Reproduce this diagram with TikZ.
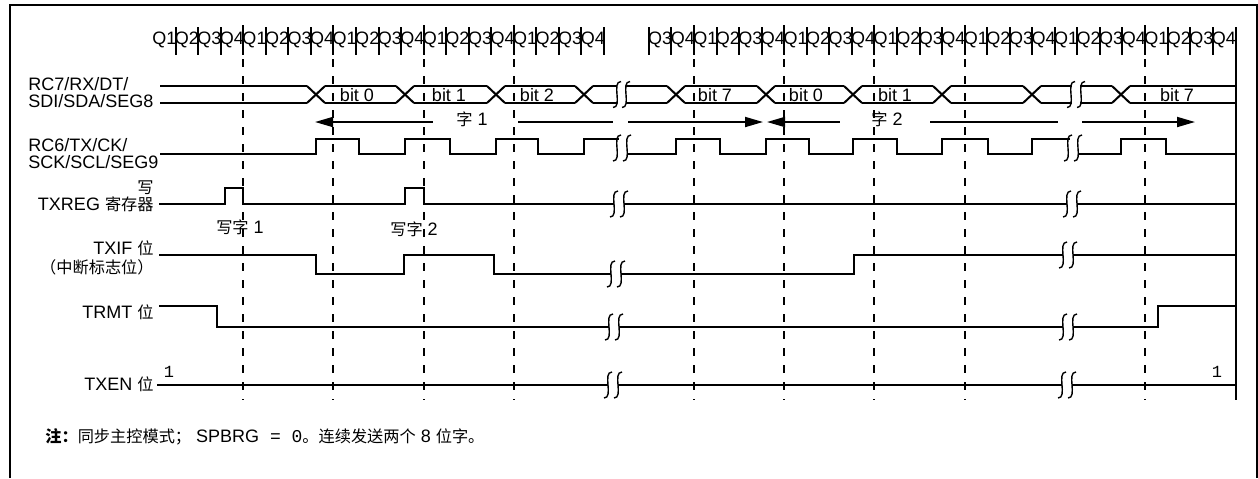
\documentclass[tikz,border=0pt]{standalone}
\usepackage{fontspec}
\setmainfont{Liberation Sans}
\setmonofont{Liberation Mono}
\newfontfamily\cjk[Scale=0.9]{Noto Sans CJK SC}
\usetikzlibrary{arrows.meta,positioning}

\tikzset{
  brk/.pic={\draw[line width=0.7pt] (4,-13) .. controls (-6,-13) and (6,13) .. (-4,13);}
}

\begin{document}
\begin{tikzpicture}[
    x=0.5pt, y=-0.5pt,
    font=\fontsize{9}{8.5}\selectfont,
    sig/.style={line width=1pt},
    outer/.style={line width=1.3pt},
    guide/.style={line width=1pt, dash pattern=on 4pt off 4.5pt},
    qtick/.style={line width=1pt},
    qlbl/.style={inner sep=0pt},
    siglbl/.style={inner sep=0pt, align=right, anchor=east},
    wordln/.style={line width=0.9pt},
    wtip/.tip={Triangle[length=9pt,width=5pt]}
]
\useasboundingbox (0,0) rectangle (1258,478);
% frame
\draw[outer] (10,478) -- (10,5) -- (1257,5) -- (1257,478);

% Q1..Q4 clock phases
\foreach \i in {0,...,19}{
  \pgfmathtruncatemacro\q{mod(\i,4)+1}
  \node[qlbl] (qa\i) at (164.3+22.55*\i,40) {Q\q};
}
\foreach \i in {0,...,25}{
  \pgfmathtruncatemacro\q{mod(\i+2,4)+1}
  \node[qlbl] (qb\i) at (660.2+22.55*\i,40) {Q\q};
}
\foreach \i in {1,...,20} \draw[qtick] (153+22.55*\i,27) -- (153+22.55*\i,55);
\foreach \i in {0,...,25} \draw[qtick] (648.9+22.55*\i,27) -- (648.9+22.55*\i,55);

% cycle guides
\foreach \x in {243.2,333.4,423.6,513.8,694,784.2,874.4,964.6,1144.8}
  \draw[guide] (\x,25) -- (\x,400);
\draw[sig] (1236,27) -- (1236,400);

% signal names
\node[siglbl, anchor=west, align=left] (rc7) at (28,93) {RC7/RX/DT/\\SDI/SDA/SEG8};
\node[siglbl, anchor=west, align=left] (rc6) at (28,154) {RC6/TX/CK/\\SCK/SCL/SEG9};
\node[siglbl] (txreg) at (154,196) {{\cjk 写}\\TXREG {\cjk 寄存器}};
\node[siglbl, font=\fontsize{9}{9.5}\selectfont] (txif) at (154,258) {TXIF {\cjk 位}\\{\cjk （中断标志位）}};
\node[siglbl] (trmt) at (154,312) {TRMT {\cjk 位}};
\node[siglbl] (txen) at (154,384) {TXEN {\cjk 位}};

% RC7 data bus
\foreach \a/\b in {160/307,325/396,414/487,505/575,593/617,626/667,685/757,775/844,862/933,951/1023,1041/1072,1080/1112,1130/1236}
  \draw[sig] (\a,86) -- (\b,86) (\a,103) -- (\b,103);
\foreach \c in {316,405,496,584,676,766,853,942,1032,1121}
  \draw[sig] (\c-9,86) -- (\c+9,103) (\c-9,103) -- (\c+9,86);
\pic at (617,94.5) {brk}; \pic at (626,94.5) {brk};
\pic at (1071,94.5) {brk}; \pic at (1081,94.5) {brk};
\foreach \t/\x in {0/357,1/449,2/537,7/715,0/806,1/895,7/1177}
  \node (b\x) at (\x,95) {bit \t};

% words
\draw[wordln, wtip-] (315,122) -- (433,122);
\node (w1) at (472,119) {{\cjk 字} 1};
\draw[wordln] (518,122) -- (613,122);
\draw[wordln, -wtip] (628,122) -- (763,122);
\draw[wordln, wtip-] (767,122) -- (840,122);
\node (w2) at (887,119) {{\cjk 字} 2};
\draw[wordln] (930,122) -- (1058,122);
\draw[wordln, -wtip] (1082,122) -- (1195,122);

% RC6 clock
\draw[sig] (160,154) -- (316,154) |- (359,139) |- (405,154) |- (450,139) |- (496,154) |- (538,139) |- (584,154) |- (619,139);
\draw[sig] (627,154) -- (676,154) |- (720,139) |- (766,154) |- (809,139) |- (853,154) |- (897,139) |- (942,154) |- (988,139) |- (1032,154) |- (1070,139);
\draw[sig] (1078,154) -- (1121,154) |- (1166,139) |- (1236,154);
\pic at (617,148) {brk}; \pic at (627,148) {brk};
\pic at (1068,148) {brk}; \pic at (1078,148) {brk};

% TXREG
\draw[sig] (159,204) -- (225,204) |- (243,188) |- (405,204) |- (424,188) |- (614,204);
\draw[sig] (624,204) -- (1067,204);
\draw[sig] (1077,204) -- (1236,204);
\pic at (614,204) {brk}; \pic at (624,204) {brk};
\pic at (1067,204) {brk}; \pic at (1077,204) {brk};
\node (wr1) at (240,227) {{\cjk 写字} 1};
\node (wr2) at (414,229) {{\cjk 写字} 2};

% TXIF
\draw[sig] (159,255) -- (316,255) |- (404,274) |- (494,255) |- (611,274);
\draw[sig] (621,274) -- (854,274) |- (1063,255);
\draw[sig] (1073,255) -- (1236,255);
\pic at (611,274) {brk}; \pic at (621,274) {brk};
\pic at (1063,255) {brk}; \pic at (1073,255) {brk};

% TRMT
\draw[sig] (159,306) -- (217,306) |- (609,327);
\draw[sig] (619,327) -- (1063,327);
\draw[sig] (1073,327) -- (1158,327) |- (1236,306);
\pic at (609,327) {brk}; \pic at (619,327) {brk};
\pic at (1063,327) {brk}; \pic at (1073,327) {brk};

% TXEN
\draw[sig] (157,385) -- (608,385);
\draw[sig] (618,385) -- (1062,385);
\draw[sig] (1072,385) -- (1236,385);
\pic at (608,385) {brk}; \pic at (618,385) {brk};
\pic at (1062,385) {brk}; \pic at (1072,385) {brk};
\node[font=\ttfamily\fontsize{8.5}{9}\selectfont] (en0) at (169,372) {1};
\node[font=\ttfamily\fontsize{8.5}{9}\selectfont] (en1) at (1217,372) {1};

% note
\node[anchor=west, inner sep=0pt, font=\fontsize{9}{10}\selectfont] (note) at (45,437)
  {{\cjk\bfseries 注：}{\cjk 同步主控模式；} SPBRG{\ttfamily{} = 0}{\cjk 。连续发送两个} 8 {\cjk 位字。}};
\end{tikzpicture}
\end{document}
